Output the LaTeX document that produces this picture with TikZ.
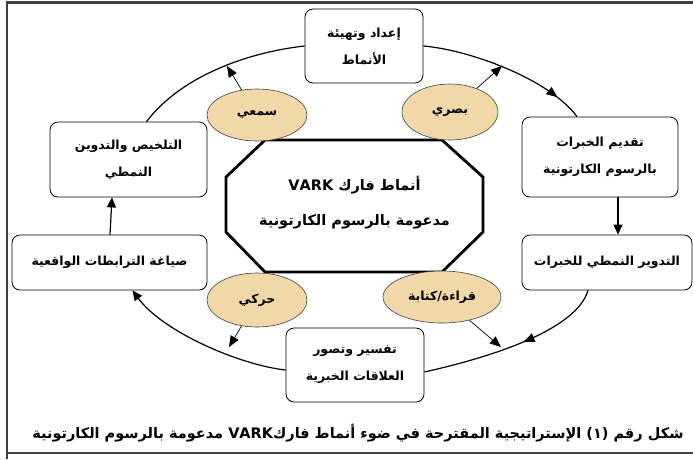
\documentclass[tikz,border=0pt]{standalone}
\usepackage{fontspec}
\TeXXeTstate=1
\newfontfamily\arabicfont[Script=Arabic]{DejaVu Sans}
\usetikzlibrary{arrows.meta,decorations.markings,shapes.geometric,calc}
\definecolor{elltan}{HTML}{F0D8A8}
\definecolor{framegray}{HTML}{404040}
\begin{document}
\begin{tikzpicture}[x=1pt,y=-1pt,
  box/.style={draw=black, line width=0.8pt, rounded corners=8pt, fill=white, inner sep=0pt, align=center,
    font=\arabicfont\bfseries\fontsize{12.5}{27}\selectfont},
  ell/.style={ellipse, draw=black!75, line width=0.6pt, fill=elltan, inner sep=0pt,
    font=\arabicfont\bfseries\fontsize{12.5}{14}\selectfont},
  tip/.style={-{Triangle[length=10pt,width=9pt]}},
  cyc/.style={line width=1.2pt},
  earrow/.style={line width=0.7pt, -{Triangle[length=11pt,width=9pt]}},
  midtip/.style={postaction={decorate}, decoration={markings, mark=at position #1 with {\arrow{Triangle[length=11pt,width=9pt]}}}}
]
\useasboundingbox (0,0) rectangle (693,459);
% frame
\draw[framegray, line width=2.5pt] (7,459) -- (7,2.5) -- (693,2.5);
\draw[framegray, line width=2.5pt] (7,453) -- (693,453);

% boxes
\node[box, minimum width=118, minimum height=74] (top) at (364,46) {\beginR إعداد وتهيئة\endR\\\beginR الأنماط\endR};
\node[box, minimum width=156, minimum height=80] (ru) at (600,157) {\beginR تقديم الخبرات\endR\\\beginR بالرسوم الكارتونية\endR};
\node[box, minimum width=170, minimum height=55] (rl) at (607,262.5) {\beginR التدوير النمطي للخبرات\endR};
\node[box, minimum width=138, minimum height=74] (bot) at (355,365) {\beginR تفسير وتصور\endR\\\beginR العلاقات الخبرية\endR};
\node[box, minimum width=195, minimum height=55] (ll) at (109.5,262.5) {\beginR صياغة الترابطات الواقعية\endR};
\node[box, minimum width=157, minimum height=75] (lu) at (128.5,159.5) {\beginR التلخيص والتدوين\endR\\\beginR النمطي\endR};

% octagon
\draw[line width=2.8pt, line join=miter] (265,140) -- (442,140) -- (483,177) -- (483,232) -- (442,272) -- (265,272) -- (226,232) -- (226,177) -- cycle;
\node[align=center, font=\arabicfont\bfseries\fontsize{14.5}{35}\selectfont] (core) at (354.5,203) {\beginR أنماط فارك \beginL VARK\endL\endR\\\beginR مدعومة بالرسوم الكارتونية\endR};

% ellipses
\node[ell, minimum width=100, minimum height=52] (sam) at (257,115) {\beginR سمعي\endR};
\node[ell, minimum width=96, minimum height=56] (bas) at (450,112) {\beginR بصري\endR};
\node[ell, minimum width=100, minimum height=54] (har) at (257,300) {\beginR حركي\endR};
\node[ell, minimum width=118, minimum height=52] (qir) at (442,297) {\beginR قراءة/كتابة\endR};

% cycle arcs
\draw[cyc] (top.west) .. controls (250,52) and (182,75) .. ($(lu.north)+(18,0)$);
\draw[cyc, midtip=0.84] (top.east) .. controls (470,50) and (549,79) .. ($(ru.north)+(-23,0)$);
\draw[cyc, tip] ($(ru.south)+(18,0)$) -- ($(rl.north)+(11,0)$);
\draw[cyc, midtip=0.45] ($(rl.south)+(-19,0)$) .. controls (575,335) and (469,362) .. ($(bot.east)+(0,7)$);
\draw[cyc, tip] ($(bot.west)+(0,5)$) .. controls (240,365) and (163,332) .. ($(ll.south)+(23,0)$);
\draw[cyc, tip] ($(ll.north)+(0.5,0)$) -- ($(lu.south)+(-16.5,0)$);

% ellipse arrows
\coordinate (c1) at (227,66);
\coordinate (c2) at (502,66);
\coordinate (c3) at (501,347);
\coordinate (c4) at (229,347);
\draw[earrow] (sam) -- (c1);
\draw[earrow] (bas) -- (c2);
\draw[earrow] (qir) -- (c3);
\draw[earrow] (har) -- (c4);

% caption
\node[font=\arabicfont\bfseries\fontsize{14.5}{16}\selectfont] (cap) at (358,433) {\beginR شكل رقم (١) الإستراتيجية المقترحة في ضوء أنماط فارك\beginL VARK\endL{} مدعومة بالرسوم الكارتونية\endR};
\end{tikzpicture}
\end{document}
